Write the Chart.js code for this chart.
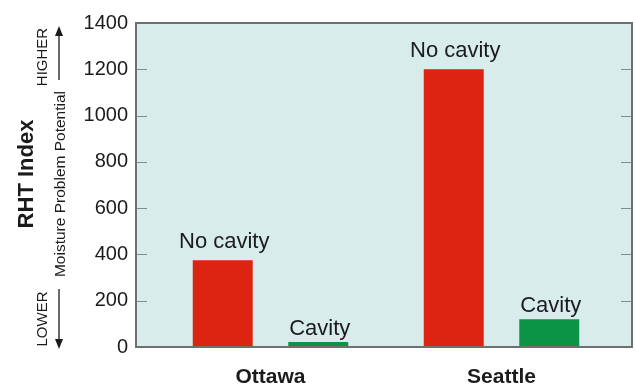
<!DOCTYPE html>
<html>
<head>
<meta charset="utf-8">
<script src="https://cdn.jsdelivr.net/npm/chart.js@4.4.1/dist/chart.umd.min.js"></script>
<style>
  html, body { margin: 0; padding: 0; background: #ffffff; }
  #wrap { width: 636px; height: 387px; }
</style>
</head>
<body>
<div id="wrap"><canvas id="c" width="636" height="387"></canvas></div>
<script>
// RHT index by city, with and without a drainage cavity
const cities = ['Ottawa', 'Seattle'];
const noCavity = [375, 1200];
const cavity = [22, 120];
const seriesNames = ['No cavity', 'Cavity'];
const yMin = 0;
const yMax = 1400;
const yStep = 200;
const yTitle = 'RHT Index';
const ySubtitle = 'Moisture Problem Potential';
const highLabel = 'HIGHER';
const lowLabel = 'LOWER';

const FONT = "'Liberation Sans', Arial, Helvetica, sans-serif";
const TEXT = '#1b1b1b';

// Panel frame extends a little beyond the bar area on both sides
const frameExtend = { left: 19, right: 15 };

const panelPlugin = {
  id: 'panel',
  beforeDraw(chart) {
    const { ctx, chartArea: a, scales } = chart;
    const L = a.left - frameExtend.left, R = a.right + frameExtend.right;
    ctx.save();
    ctx.fillStyle = '#d8ecec';
    ctx.fillRect(L, a.top, R - L, a.bottom - a.top);
    // inner tick marks on both sides
    ctx.strokeStyle = '#8a8a8a';
    ctx.lineWidth = 1.2;
    const y = scales.y;
    for (let v = yMin + yStep; v < yMax; v += yStep) {
      const py = Math.round(y.getPixelForValue(v)) + 0.5;
      ctx.beginPath();
      ctx.moveTo(L, py); ctx.lineTo(L + 11, py);
      ctx.moveTo(R - 11, py); ctx.lineTo(R, py);
      ctx.stroke();
    }
    ctx.restore();
  },
  afterDatasetsDraw(chart) {
    const { ctx, chartArea: a } = chart;
    const L = a.left - frameExtend.left, R = a.right + frameExtend.right;
    ctx.save();
    ctx.strokeStyle = '#6f6f6f';
    ctx.lineWidth = 2;
    ctx.strokeRect(L, a.top, R - L, a.bottom - a.top);

    // series labels above each bar
    ctx.fillStyle = TEXT;
    ctx.font = '22px ' + FONT;
    ctx.textAlign = 'center';
    ctx.textBaseline = 'alphabetic';
    const gaps = [12, 7];
    chart.data.datasets.forEach((ds, di) => {
      chart.getDatasetMeta(di).data.forEach(bar => {
        ctx.fillText(ds.label, bar.x + 1.5, bar.y - gaps[di]);
      });
    });

    // rotated axis titles
    const rot = (text, x, y, font) => {
      ctx.save();
      ctx.translate(x, y);
      ctx.rotate(-Math.PI / 2);
      ctx.font = font;
      ctx.textAlign = 'center';
      ctx.textBaseline = 'middle';
      ctx.fillText(text, 0, 0);
      ctx.restore();
    };
    rot(yTitle, 27, 174, 'bold 22px ' + FONT);
    rot(ySubtitle, 61, 184, '15.5px ' + FONT);
    rot(highLabel, 43, 57, '15px ' + FONT);
    rot(lowLabel, 43, 319, '15px ' + FONT);

    // direction arrows
    ctx.strokeStyle = TEXT;
    ctx.fillStyle = TEXT;
    ctx.lineWidth = 1.3;
    const ax = 59;
    ctx.beginPath();
    ctx.moveTo(ax, 34); ctx.lineTo(ax, 80);
    ctx.moveTo(ax, 289); ctx.lineTo(ax, 341);
    ctx.stroke();
    ctx.beginPath();
    ctx.moveTo(ax, 26); ctx.lineTo(ax - 4, 36); ctx.lineTo(ax + 4, 36); ctx.closePath();
    ctx.fill();
    ctx.beginPath();
    ctx.moveTo(ax, 349); ctx.lineTo(ax - 4, 339); ctx.lineTo(ax + 4, 339); ctx.closePath();
    ctx.fill();
    ctx.restore();
  }
};

new Chart(document.getElementById('c'), {
  type: 'bar',
  data: {
    labels: cities,
    datasets: [
      { label: seriesNames[0], data: noCavity, backgroundColor: '#dd2413' },
      { label: seriesNames[1], data: cavity, backgroundColor: '#0c9446' }
    ]
  },
  options: {
    responsive: false,
    animation: false,
    devicePixelRatio: 1,
    categoryPercentage: 0.827,
    barPercentage: 0.628,
    layout: { padding: { left: 0, right: 19, top: 23, bottom: 0 } },
    plugins: { legend: { display: false }, tooltip: { enabled: false } },
    scales: {
      x: {
        grid: { display: false, drawTicks: false },
        border: { display: false },
        ticks: { color: TEXT, font: { family: FONT, size: 21, weight: 'bold' }, padding: 18 },
        afterFit(s) { s.height = 40; s.paddingLeft = 0; s.paddingRight = 0; }
      },
      y: {
        min: yMin, max: yMax,
        grid: { display: false, drawTicks: false },
        border: { display: false },
        ticks: {
          stepSize: yStep, color: TEXT, font: { family: FONT, size: 20 }, padding: 27,
          callback: v => String(v)
        },
        afterFit(s) { s.width = 155; s.paddingTop = 0; s.paddingBottom = 0; }
      }
    }
  },
  plugins: [panelPlugin]
});
</script>
</body>
</html>
